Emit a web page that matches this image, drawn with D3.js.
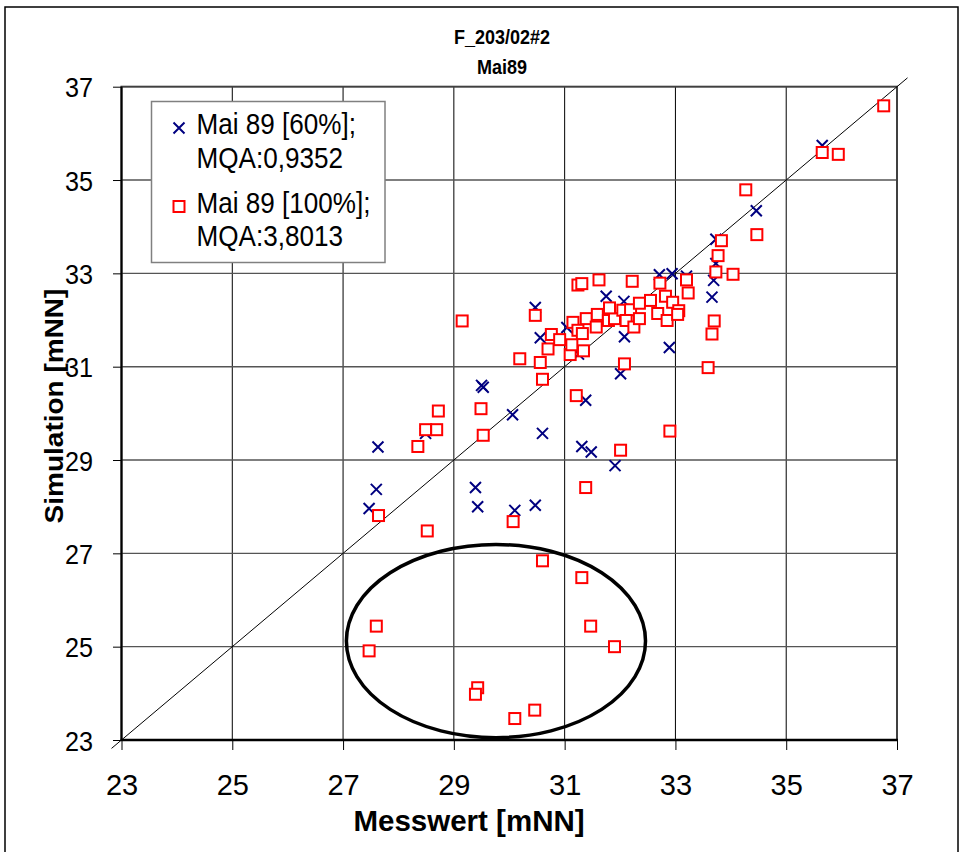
<!DOCTYPE html>
<html>
<head>
<meta charset="utf-8">
<script src="https://cdn.jsdelivr.net/npm/d3@7"></script>
<style>
  body { margin: 0; background: #fff; }
  svg { display: block; font-family: Arial, "Liberation Sans", sans-serif; }
</style>
</head>
<body>
<div id="chart"></div>
<script>
// series: Messwert (x) vs. Simulation (y), mNN
const mess60 = [27.47, 27.60, 27.63, 28.49, 29.39, 29.43, 29.50, 29.53, 30.06, 30.10, 30.47, 30.47,
  30.56, 30.60, 31.04, 31.25, 31.31, 31.38, 31.48, 31.75, 31.91, 32.01, 32.07, 32.08,
  32.71, 32.94, 33.20, 32.89, 33.66, 33.69, 33.73, 33.73, 34.46, 35.65]
const sim60 = [27.96, 28.37, 29.28, 29.57, 28.41, 28.00, 30.60, 30.56, 29.97, 27.92, 28.03, 32.27,
  31.62, 29.57, 31.84, 31.27, 29.29, 30.28, 29.17, 32.51, 28.88, 30.85, 32.40, 31.64,
  32.97, 32.99, 32.94, 31.41, 32.49, 32.85, 33.21, 33.73, 34.34, 35.74]

const mess100 = [27.47, 27.60, 27.64, 28.35, 28.49, 28.69, 28.72, 28.52, 29.15, 29.49, 29.53, 29.43,
  29.39, 30.07, 30.10, 30.46, 30.60, 30.60, 30.19, 30.47, 30.56, 30.70, 30.76, 30.91,
  31.10, 31.13, 31.15, 31.24, 31.32, 31.34, 31.21, 31.24, 31.31, 31.62, 31.39, 31.59,
  31.57, 31.79, 31.90, 31.81, 32.05, 32.19, 32.11, 32.25, 32.35, 32.35, 32.55, 32.68,
  32.72, 32.82, 32.85, 32.95, 33.06, 33.04, 33.20, 33.23, 32.08, 32.01, 31.38, 31.31,
  31.47, 31.90, 32.90, 33.59, 33.66, 33.70, 33.73, 33.77, 33.83, 34.04, 34.27, 34.47,
  35.65, 35.94, 36.76, 32.22]
const sim100 = [24.91, 25.44, 27.81, 29.29, 29.65, 29.65, 30.05, 27.48, 31.98, 30.10, 29.53, 24.12,
  23.98, 27.68, 23.46, 23.64, 26.84, 30.73, 31.17, 32.10, 31.09, 31.38, 31.69, 31.58,
  31.26, 31.47, 31.95, 31.78, 31.71, 31.34, 30.38, 32.75, 32.78, 32.86, 32.03, 32.12,
  31.85, 31.99, 32.03, 32.26, 32.21, 32.22, 31.99, 31.85, 32.36, 32.03, 32.42, 32.14,
  32.79, 32.51, 31.99, 32.38, 32.20, 32.12, 32.86, 32.58, 31.06, 29.21, 28.41, 26.48,
  25.44, 25.00, 29.62, 30.98, 31.70, 31.98, 33.03, 33.38, 33.70, 32.98, 34.79, 33.83,
  35.59, 35.55, 36.59, 32.83]

const ticks = [23, 25, 27, 29, 31, 33, 35, 37]
const legendLines = [["Mai 89 [60%];", "MQA:0,9352"], ["Mai 89 [100%];", "MQA:3,8013"]]
const titleLines = ["F_203/02#2", "Mai89"]
const xTitle = "Messwert [mNN]"
const yTitle = "Simulation [mNN]"
// circled group of outliers: centre and half-axes in data units
const ring = { cx: 29.76, cy: 25.12, rx: 2.70, ry: 2.07 }

const W = 965, H = 852
const SQ = 0.9 // most text in the original is slightly narrowed

const x = d3.scaleLinear().domain([23, 37]).range([121.5, 897])
const y = d3.scaleLinear().domain([23, 37]).range([740, 86.7])

const svg = d3.select("#chart").append("svg")
  .attr("width", W)
  .attr("height", H)

svg.append("rect")
  .attr("x", 5).attr("y", 7)
  .attr("width", 953).attr("height", 870)
  .attr("fill", "#fff")
  .attr("stroke", "#000")
  .attr("stroke-width", 1.5)

const addText = (tx, ty, str, size, weight, anchor, sq = SQ) => svg.append("text")
  .attr("transform", `translate(${tx},${ty}) scale(${sq},1)`)
  .attr("text-anchor", anchor)
  .attr("font-size", size)
  .attr("font-weight", weight)
  .attr("fill", "#000")
  .text(str)

addText(502, 44, titleLines[0], 20, "bold", "middle")
addText(502, 74, titleLines[1], 20, "bold", "middle")

// grid
const inner = ticks.slice(1, -1)
svg.append("g")
  .selectAll("line")
  .data(inner)
  .join("line")
  .attr("x1", d => x(d)).attr("x2", d => x(d))
  .attr("y1", y(23)).attr("y2", y(37))
  .attr("stroke", "#000")
  .attr("stroke-width", 1)

svg.append("g")
  .selectAll("line")
  .data(inner)
  .join("line")
  .attr("x1", x(23)).attr("x2", x(37))
  .attr("y1", d => y(d)).attr("y2", d => y(d))
  .attr("stroke", "#555")
  .attr("stroke-width", 1.4)

svg.append("rect")
  .attr("x", x(23)).attr("y", y(37))
  .attr("width", x(37) - x(23)).attr("height", y(23) - y(37))
  .attr("fill", "none")
  .attr("stroke", "#404040")
  .attr("stroke-width", 2)

// axes
const xAxis = svg.append("g")
  .attr("transform", `translate(0,${y(23)})`)
  .call(d3.axisBottom(x).tickValues(ticks).tickSize(10).tickSizeOuter(0))
xAxis.select(".domain").remove()
xAxis.selectAll("text")
  .attr("y", 55).attr("dy", null)
  .attr("font-size", 29)
  .attr("fill", "#000")

const yAxis = svg.append("g")
  .attr("transform", `translate(${x(23)},0)`)
  .call(d3.axisLeft(y).tickValues(ticks).tickSize(8.5).tickSizeOuter(0))
yAxis.select(".domain").remove()
yAxis.selectAll("text")
  .attr("x", -28.5 / SQ).attr("dy", "0.357em")
  .attr("transform", `scale(${SQ},1)`)
  .attr("font-size", 28)
  .attr("fill", "#000")
svg.selectAll(".tick line").attr("stroke", "#000")

svg.append("line")
  .attr("x1", x(23)).attr("x2", x(23))
  .attr("y1", y(37)).attr("y2", y(23))
  .attr("stroke", "#000").attr("stroke-width", 2)
svg.append("line")
  .attr("x1", x(23) - 1).attr("x2", x(37) + 1)
  .attr("y1", y(23)).attr("y2", y(23))
  .attr("stroke", "#000").attr("stroke-width", 2.5)

// 1:1 line
svg.append("line")
  .attr("x1", x(22.82)).attr("y1", y(22.82))
  .attr("x2", x(37.19)).attr("y2", y(37.19))
  .attr("stroke", "#000")
  .attr("stroke-width", 1)

// markers
const cross = (g, s) => g.append("path")
  .attr("d", `M${-s},${-s}L${s},${s}M${-s},${s}L${s},${-s}`)
  .attr("stroke", "#000080")
  .attr("stroke-width", 2)
  .attr("fill", "none")

const square = (g, s) => g.append("rect")
  .attr("x", -s).attr("y", -s)
  .attr("width", 2 * s).attr("height", 2 * s)
  .attr("fill", "#fff")
  .attr("stroke", "#ff0000")
  .attr("stroke-width", 2)

svg.append("g")
  .selectAll("g")
  .data(d3.range(mess60.length))
  .join("g")
  .attr("transform", i => `translate(${x(mess60[i])},${y(sim60[i])})`)
  .each(function () { cross(d3.select(this), 5.5) })

svg.append("g")
  .selectAll("g")
  .data(d3.range(mess100.length))
  .join("g")
  .attr("transform", i => `translate(${x(mess100[i])},${y(sim100[i])})`)
  .each(function () { square(d3.select(this), 5.5) })

svg.append("ellipse")
  .attr("cx", x(ring.cx)).attr("cy", y(ring.cy))
  .attr("rx", x(ring.cx + ring.rx) - x(ring.cx))
  .attr("ry", y(ring.cy) - y(ring.cy + ring.ry))
  .attr("fill", "none")
  .attr("stroke", "#000")
  .attr("stroke-width", 3.5)

// legend
svg.append("rect")
  .attr("x", 151.5).attr("y", 101.5)
  .attr("width", 233.5).attr("height", 161)
  .attr("fill", "#fff")
  .attr("stroke", "#808080")
  .attr("stroke-width", 1.5)

cross(svg.append("g").attr("transform", "translate(179,128)"), 5.5)
square(svg.append("g").attr("transform", "translate(179,206.5)"), 5.5)

addText(196.5, 134, legendLines[0][0], 29, "normal", "start")
addText(196.5, 168, legendLines[0][1], 29, "normal", "start")
addText(196.5, 212.5, legendLines[1][0], 29, "normal", "start")
addText(196.5, 246, legendLines[1][1], 29, "normal", "start")

// axis titles
addText(469, 831, xTitle, 29.5, "bold", "middle", 1)
svg.append("text")
  .attr("transform", `translate(63,406) scale(${SQ},1) rotate(-90)`)
  .attr("text-anchor", "middle")
  .attr("font-size", 28)
  .attr("font-weight", "bold")
  .text(yTitle)
</script>
</body>
</html>
